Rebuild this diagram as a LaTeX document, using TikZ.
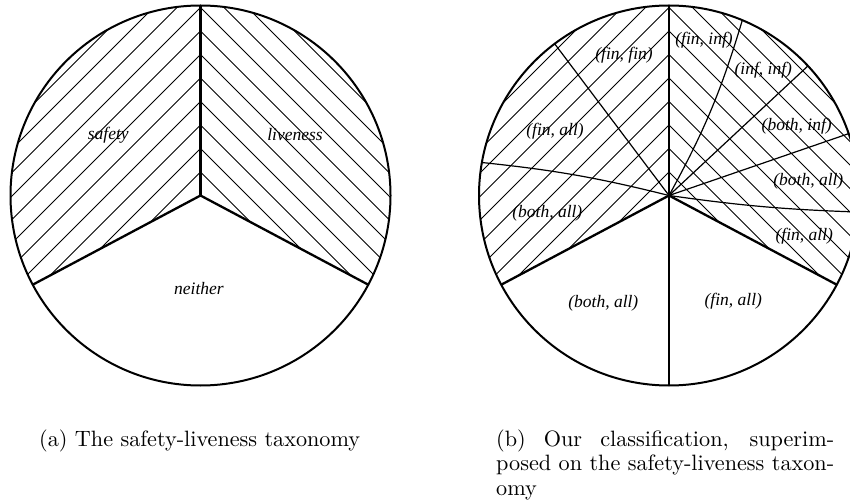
\documentclass[tikz,border=0pt]{standalone}
\usepackage{fontspec}
\newfontfamily\regionfont{Liberation Serif}
\newfontfamily\capfont{lmroman10-regular.otf}
\usepackage{tikz}

\begin{document}
\begin{tikzpicture}[x=1pt, y=1pt,
    rim/.style={line width=2pt},
    border/.style={line width=2.3pt},
    hatchline/.style={line width=0.9pt},
    cut/.style={line width=1.2pt},
    region/.style={font=\regionfont\itshape\fontsize{17.5}{20}\selectfont, inner sep=0pt},
    capt/.style={font=\capfont\fontsize{22.2}{24.5}\selectfont, inner sep=0pt}]
  \useasboundingbox (0,0) rectangle (850,501);
  \clip (0,0) rectangle (850,501);

  \coordinate (lc) at (200.5,305.5);
  \coordinate (rc) at (669,305.5);

  % both discs: hatched safety / liveness parts, thick borders
  \foreach \c in {lc,rc}{
    \begin{scope}
      \clip (\c) -- ++(90:190) arc[start angle=90, end angle=208, radius=190] -- cycle;
      \foreach \k in {0,...,12}
        \draw[hatchline, shift={(\c)}] (-300,{-300+23.5*\k}) -- (300,{300+23.5*\k});
    \end{scope}
    \begin{scope}
      \clip (\c) -- ++(90:190) arc[start angle=90, end angle=-28, radius=190] -- cycle;
      \foreach \k in {0,...,12}
        \draw[hatchline, shift={(\c)}] (-300,{300+23.5*\k}) -- (300,{-300+23.5*\k});
    \end{scope}
    \draw[border] (\c) -- ++(90:190);
    \draw[border] (\c) -- ++(208:190);
    \draw[border] (\c) -- ++(-28:190);
    \draw[rim] (\c) circle[radius=190];
  }

  % our classification on the right disc
  \draw[cut] (rc) -- ++(-90:190);
  \draw[cut] (rc) -- ++(127:190);
  \draw[cut] (rc) to[bend right=4] ++(170:190);
  \draw[cut] (rc) to[bend right=6] ++(67.3:190);
  \draw[cut] (rc) -- ++(43:190);
  \draw[cut] (rc) -- ++(19:190);
  \draw[cut] (rc) to[bend right=3] ++(-5:190);

  \node[region] (safety) at (108.3,366) {safety};
  \node[region] (liveness) at (295,366) {liveness};
  \node[region] (neither) at (199,212.7) {neither};

  \node[region] (finfin) at (624,446) {(fin, fin)};
  \node[region] (fininf) at (704,461) {(fin, inf)};
  \node[region] (infinf) at (763.3,430.3) {(inf, inf)};
  \node[region] (bothinf) at (796.7,375) {(both, inf)};
  \node[region] (bothallr) at (808.3,320) {(both, all)};
  \node[region] (finallr) at (804.3,265) {(fin, all)};
  \node[region] (finalll) at (555,369.3) {(fin, all)};
  \node[region] (bothalll) at (547.3,287.7) {(both, all)};
  \node[region] (bothallb) at (603.3,197.7) {(both, all)};
  \node[region] (finallb) at (733.3,200) {(fin, all)};

  \node[capt, anchor=base west] (capa) at (39,55) {(a) The safety-liveness taxonomy};
  \node[capt, anchor=base west, text width=338pt, align=justify] (capb) at (496,55)
    {(b) Our classification, superim-\linebreak posed on the safety-liveness taxon-\linebreak omy};
\end{tikzpicture}
\end{document}
